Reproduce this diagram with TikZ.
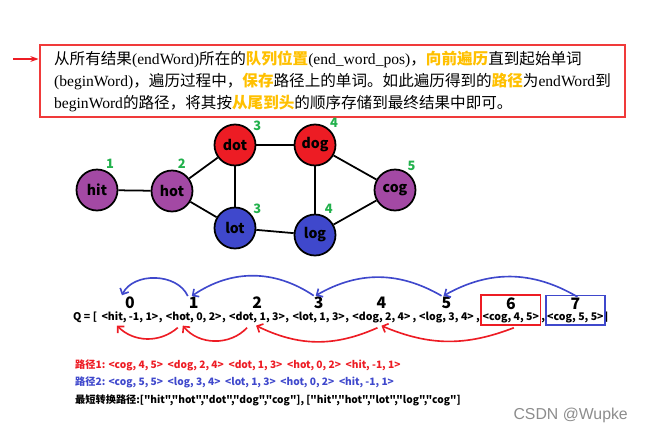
\documentclass[tikz,border=0pt]{standalone}
\usepackage{fontspec}
\usepackage{xcolor}
\usetikzlibrary{arrows.meta, positioning, calc, fit}
\setmainfont{Liberation Serif}
\newfontfamily\cjk{Noto Sans CJK SC}
\newfontfamily\wmfont{Liberation Sans}
\definecolor{paintred}{RGB}{237,28,36}
\definecolor{paintblue}{RGB}{63,72,204}
\definecolor{paintpurple}{RGB}{163,73,164}
\definecolor{paintgreen}{RGB}{34,177,76}
\definecolor{framered}{RGB}{240,58,58}
\definecolor{hlyellow}{RGB}{255,192,0}
\newcommand{\zh}[1]{{\cjk #1}}
\newcommand{\hl}[1]{{\cjk\bfseries\color{hlyellow}#1}}
\tikzset{
  word/.style={
    circle, draw=black, line width=1.5pt, fill=#1,
    minimum size=1.23cm, inner sep=0pt,
    font=\cjk\bfseries\fontsize{12}{12}\selectfont
  },
  level/.style={text=paintgreen, inner sep=1pt,
    font=\cjk\bfseries\fontsize{11}{11}\selectfont},
  link/.style={line width=1.5pt, black},
  arrow/.style={-{Straight Barb[length=4pt,width=8pt]}, line width=1.4pt, #1}
}

\begin{document}
\begin{tikzpicture}[x=0.03cm, y=-0.03cm,
  descbox/.style={draw=framered, line width=2.4pt, minimum width=17.55cm,
                  minimum height=2.16cm, align=left, inner sep=0pt,
                  font=\fontsize{13.3}{18.7}\selectfont},
  entry/.style={font=\cjk\bfseries\fontsize{9}{9}\selectfont, inner sep=0pt,
                anchor=base west},
  idx/.style={font=\cjk\bfseries\fontsize{13.5}{13.5}\selectfont, inner sep=0pt},
  qframe/.style={draw=#1, line width=1.5pt, inner xsep=1pt, inner ysep=2pt},
  pathline/.style={font=\cjk\bfseries\fontsize{8.7}{8.7}\selectfont,
                   anchor=west, inner sep=0pt}]
  \useasboundingbox (0,0) rectangle (656,436);

  % explanation box
  \node[descbox] (desc) at (332.5,81) {%
    \zh{从所有结果}(endWord)\zh{所在的}\hl{队列位置}(end\_word\_pos)\zh{，}\hl{向前遍历}\zh{直到起始单词}\\
    (beginWord)\zh{，遍历过程中，}\hl{保存}\zh{路径上的单词。如此遍历得到的}\hl{路径}\zh{为}endWord\zh{到}\\
    beginWord\zh{的路径，将其按}\hl{从尾到头}\zh{的顺序存储到最终结果中即可。}};
  \coordinate (tail) at (13,59);
  \draw[-{Stealth[length=7pt,width=5pt]}, paintred, line width=1pt]
    (tail) -- (desc.west |- tail);

  % word graph
  \node[word=paintpurple, label={[level]69:1}] (hit) at (97,190)  {hit};
  \node[word=paintpurple, label={[level]78:2}] (hot) at (172,191) {hot};
  \node[word=paintred,    label={[level]38:3}] (dot) at (235,145) {dot};
  \node[word=paintred,    label={[level]50:4}] (dog) at (315,145) {dog};
  \node[word=paintblue,   label={[level]38:3}] (lot) at (235,228) {lot};
  \node[word=paintblue,   label={[level]67:4}] (log) at (315,235) {log};
  \node[word=paintpurple, label={[level]58:5}] (cog) at (395,190) {cog};
  \foreach \f/\t in {hit/hot,hot/dot,hot/lot,dot/dog,dot/lot,dog/log,dog/cog,lot/log,log/cog}
    \draw[link] (\f) -- (\t);

  % queue
  \node[entry] (qhead) at (73,320) {Q = [\kern3.5pt};
  \foreach \i/\p/\t/\c in {0/qhead/{<hit, -1, 1>}/{,\kern2.5pt}, 1/c0/{<hot, 0, 2>}/{,\kern2.5pt},
                           2/c1/{<dot, 1, 3>}/{,\kern2.5pt}, 3/c2/{<lot, 1, 3>}/{,\kern2.5pt},
                           4/c3/{<dog, 2, 4>}/{\kern1.5pt,\kern2pt}, 5/c4/{<log, 3, 4>}/{\kern1.5pt,\kern2pt},
                           6/c5/{<cog, 4, 5>}/{\kern1.5pt,\kern1.5pt}, 7/c6/{<cog, 5, 5>}/{]}} {
    \node[entry] (e\i) at (\p.base east) {\t};
    \node[entry] (c\i) at (e\i.base east) {\c};
    \node[idx, above=2pt of e\i] (i\i) {\i};
  }
  \node[qframe=paintred, fit=(i6)(e6)] (f6) {};
  \node[qframe=paintblue, fit=(i7)(e7)] (f7) {};

  \foreach \a/\b/\da/\db/\bend in {7/5/2/-3/30, 5/3/-5/-3/30, 3/1/-5/-2/34, 1/0/-6/-8/65}
    \draw[arrow=paintblue] ($(i\a.north)+(\da,-1)$) to[bend right=\bend] ($(i\b.north)+(\db,-1)$);
  \foreach \a/\b/\da/\db/\bend in {6/4/3/0/22, 4/2/-4/-1/25, 2/1/-10/-11/49, 1/0/-16/-13/43}
    \draw[arrow=paintred] ($(e\a.south)+(\da,5)$) to[bend left=\bend] ($(e\b.south)+(\db,3)$);

  % result paths
  \node[pathline, text=paintred] (path1) at (75,365)
    {路径1: <cog, 4, 5>\ \ <dog, 2, 4>\ \ <dot, 1, 3>\ \ <hot, 0, 2>\ \ <hit, -1, 1>};
  \node[pathline, text=paintblue] (path2) at (75,382)
    {路径2: <cog, 5, 5>\ \ <log, 3, 4>\ \ <lot, 1, 3>\ \ <hot, 0, 2>\ \ <hit, -1, 1>};
  \node[pathline] (path3) at (75,400)
    {最短转换路径:["hit","hot","dot","dog","cog"], ["hit","hot","lot","log","cog"]};

  \node[text=black!45, anchor=east, inner sep=0pt,
        font=\wmfont\fontsize{13.5}{13.5}\selectfont] (wm) at (628,415) {CSDN @Wupke};
\end{tikzpicture}
\end{document}
